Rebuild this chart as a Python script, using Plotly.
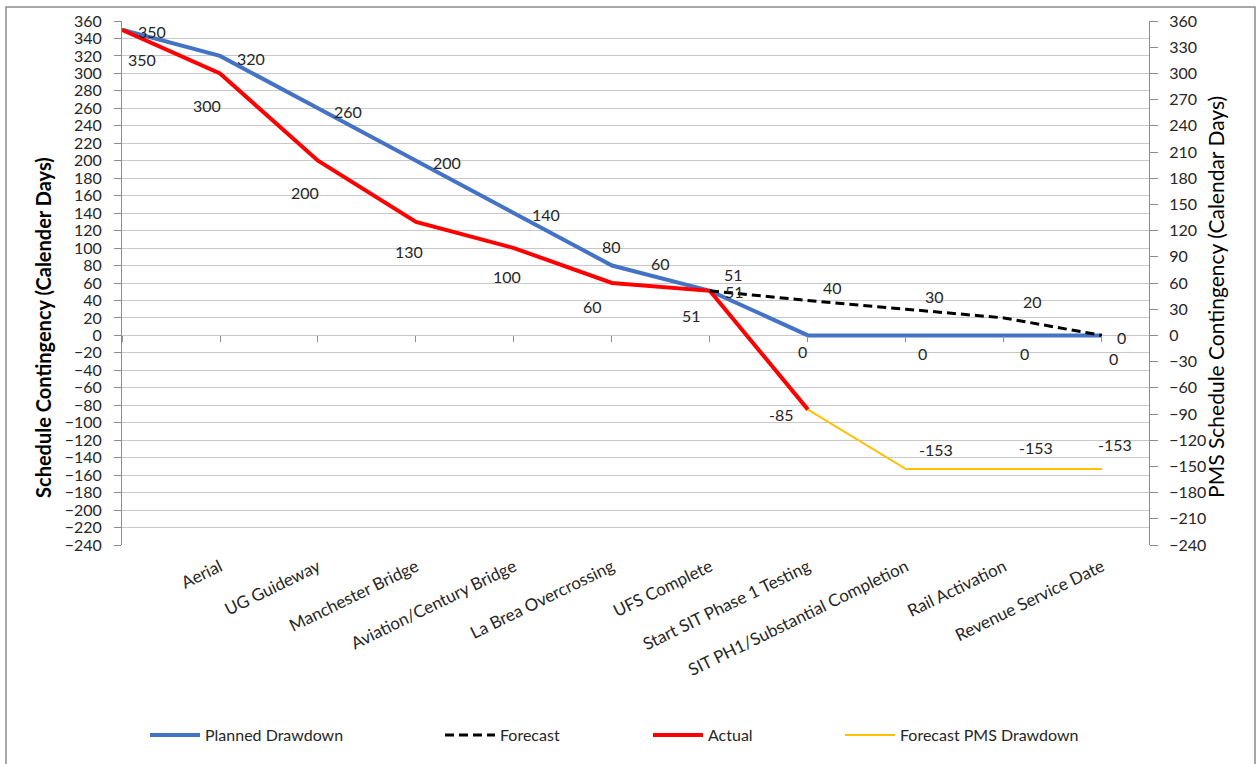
import plotly.graph_objects as go

# Milestones along the category axis (first slot is the unlabeled start point)
categories = ["", "Aerial", "UG Guideway", "Manchester Bridge", "Aviation/Century Bridge",
              "La Brea Overcrossing", "UFS Complete", "Start SIT Phase 1 Testing",
              "SIT PH1/Substantial Completion", "Rail Activation", "Revenue Service Date"]

planned = [350, 320, 260, 200, 140, 80, 51, 0, 0, 0, 0]
forecast = [None, None, None, None, None, None, 51, 40, 30, 20, 0]
actual = [350, 300, 200, 130, 100, 60, 51, -85, None, None, None]
pms_forecast = [None, None, None, None, None, None, None, -85, -153, -153, -153]

left_ticks = list(range(-240, 361, 20))
right_ticks = list(range(-240, 361, 30))

xs = list(range(len(categories)))

FONT = "Lato"
TXT = "#262626"
GRID = "#c8c8c8"
AXIS = "#8c8c8c"

fig = go.Figure()

series = [
    ("Planned Drawdown", planned, dict(color="#4472C4", width=4), "y", "legend"),
    ("Actual", actual, dict(color="#FF0000", width=4), "y", "legend3"),
    ("Forecast", forecast, dict(color="#000000", width=3, dash="9px,5px"), "y", "legend2"),
    ("Forecast PMS Drawdown", pms_forecast, dict(color="#FFC000", width=2), "y2", "legend4"),
]
for name, vals, line, yax, leg in series:
    fig.add_trace(go.Scatter(
        x=xs, y=vals, name=name, mode="lines", line=line, yaxis=yax,
        legend=leg, connectgaps=False, hoverinfo="skip"))

# invisible helper trace so the zero-line category ticks get drawn
fig.add_trace(go.Scatter(x=[0], y=[None], xaxis="x2", yaxis="y",
                         showlegend=False, hoverinfo="skip"))

# data label offsets in pixels (right, up) for each labelled point
label_offsets = {
    "planned": [(30, -2), (31, -3), (30, -3), (31, -2), (32, -1), (0, 19),
                (25, -1), (-5, -16), (17, -18), (21, -18), (12, -23)],
    "actual": [(20, -30), (-13, -32), (-13, -32), (-7, -30), (-7, -28),
               (-19, -23), (-18, -25), (-26, -5)],
    "forecast": [(24, 16), (25, 13), (29, 13), (29, 16), (20, -2)],
    "pms": [(30, 20), (32, 22), (13, 25)],
}

annotations = []


def add_labels(vals, offsets, start, yref="y"):
    idx = [i for i, v in enumerate(vals) if v is not None][start:]
    for i, (dx, dy) in zip(idx, offsets):
        annotations.append(dict(
            x=i, y=vals[i], xref="x", yref=yref, text=str(vals[i]),
            showarrow=False, xshift=dx, yshift=dy,
            font=dict(family=FONT, size=16, color=TXT)))


add_labels(planned, label_offsets["planned"], 0)
add_labels(actual, label_offsets["actual"], 0)
add_labels(forecast, label_offsets["forecast"], 0)
add_labels(pms_forecast, label_offsets["pms"], 1, yref="y2")

# loose text box left on the chart between La Brea and UFS Complete
annotations.append(dict(x=5.5, y=82, xref="x", yref="y", text="60", showarrow=False,
                        font=dict(family=FONT, size=16, color=TXT)))

# axis titles
annotations.append(dict(x=-0.077, y=0.416, xref="paper", yref="paper",
                        text="<b>Schedule Contingency (Calender Days)</b>",
                        textangle=-90, showarrow=False, xanchor="center", yanchor="middle",
                        font=dict(family=FONT, size=20, color="#000000")))
annotations.append(dict(x=1.064, y=0.473, xref="paper", yref="paper",
                        text="PMS Schedule Contingency (Calendar Days)",
                        textangle=-90, showarrow=False, xanchor="center", yanchor="middle",
                        font=dict(family=FONT, size=21, color="#000000")))

legend_x_px = [145, 440, 648, 840]
legend_common = dict(orientation="h", yanchor="middle", y=-0.363, xanchor="left",
                     bgcolor="rgba(0,0,0,0)", itemwidth=50,
                     font=dict(family=FONT, size=16, color=TXT))
legends = {}
for key, px in zip(["legend", "legend2", "legend3", "legend4"], legend_x_px):
    legends[key] = dict(legend_common, x=(px - 122) / 1027)

fig.update_layout(
    width=1256, height=764,
    margin=dict(l=122, r=107, t=21, b=217),
    paper_bgcolor="white", plot_bgcolor="white",
    showlegend=True,
    font=dict(family=FONT, size=16, color=TXT),
    xaxis=dict(range=[0, 10.48], tickmode="array", tickvals=xs, ticktext=categories,
               tickangle=-26, ticks="", showgrid=False, zeroline=False, showline=False,
               automargin=False, ticklabelstandoff=8,
               tickfont=dict(family=FONT, size=17, color=TXT)),
    xaxis2=dict(range=[0, 10.48], overlaying="x", anchor="free", position=0.4,
                tickmode="array", tickvals=xs, ticks="outside", ticklen=6,
                tickcolor=AXIS, showticklabels=False, showgrid=False, zeroline=False,
                showline=False, automargin=False),
    yaxis=dict(range=[-240, 360], tickmode="array", tickvals=left_ticks,
               showgrid=True, gridcolor=GRID, gridwidth=1, zeroline=False,
               showline=True, linecolor=AXIS, linewidth=1, ticks="outside", ticklen=7,
               tickcolor=AXIS, ticklabelstandoff=9, automargin=False,
               tickfont=dict(family=FONT, size=16, color=TXT)),
    yaxis2=dict(range=[-240, 360], tickmode="array", tickvals=right_ticks,
                overlaying="y", side="right", showgrid=False, zeroline=False,
                showline=True, linecolor=AXIS, linewidth=1, ticks="outside", ticklen=8,
                tickcolor=AXIS, ticklabelstandoff=8, automargin=False,
                tickfont=dict(family=FONT, size=16, color=TXT)),
    annotations=annotations,
    shapes=[dict(type="rect", xref="paper", yref="paper",
                 x0=(6 - 122) / 1027, x1=(1255 - 122) / 1027,
                 y0=(547 - 775) / 526, y1=(547 - 7) / 526,
                 line=dict(color="#8c8c8c", width=1.5), fillcolor="rgba(0,0,0,0)",
                 layer="below")],
    **legends,
)

fig.write_html("out.html")
